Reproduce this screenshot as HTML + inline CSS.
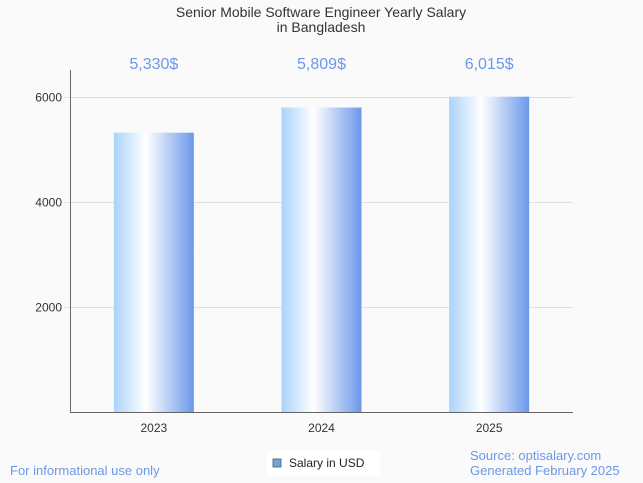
<!DOCTYPE html>
<html><head><meta charset="utf-8"><style>
html,body{margin:0;padding:0;overflow:hidden;background:#fafafa;font-family:"Liberation Sans",sans-serif;}
svg{display:block;}
</style></head><body>
<svg id="c" width="643" height="483" xmlns="http://www.w3.org/2000/svg">
<defs><linearGradient id="g" x1="0" x2="1" y1="0" y2="0">
<stop offset="0" stop-color="#a9d3fb"/><stop offset="0.4" stop-color="#ffffff"/><stop offset="1" stop-color="#6b98ea"/>
</linearGradient></defs>
<rect width="643" height="483" fill="#fafafa"/>
<text x="321" y="17" text-anchor="middle" font-size="14" fill="#333">Senior Mobile Software Engineer Yearly Salary</text>
<text x="321" y="32" text-anchor="middle" font-size="14" fill="#333">in Bangladesh</text>
<g id="grid"></g>
<g id="bars"></g>
<line x1="70.5" y1="70" x2="70.5" y2="412.5" stroke="#666"/>
<line x1="70" y1="412.5" x2="573" y2="412.5" stroke="#666"/>
<text x="10" y="475" font-size="13" fill="#6b98ea">For informational use only</text>
<rect x="267" y="451" width="113" height="25" fill="#fff"/>
<rect x="273" y="459" width="8" height="8" fill="#6aa6e8" stroke="#555" stroke-width="0.8"/>
<text x="289" y="467" font-size="12" fill="#222">Salary in USD</text>
<text x="470" y="460" font-size="13" fill="#6b98ea">Source: optisalary.com</text>
<text x="470" y="475" font-size="13" fill="#6b98ea">Generated February 2025</text>
</svg>
<script>
const categories=["2023","2024","2025"];
const salaries=[5330,5809,6015];
const valueLabels=["5,330$","5,809$","6,015$"];
const yTicks=[2000,4000,6000];
const ns="http://www.w3.org/2000/svg";
const x0=70,x1=573,yBase=412.5,pxPer=105/2000;
const y=v=>yBase-v*pxPer;
const band=(x1-x0)/categories.length;
const xc=i=>x0+band*(i+0.5);
const grid=document.getElementById('grid'),bars=document.getElementById('bars');
function mk(t,a,p){const e=document.createElementNS(ns,t);for(const k in a)e.setAttribute(k,a[k]);p.appendChild(e);return e;}
yTicks.forEach(v=>{
 const l=mk('line',{x1:64,x2:x1,y1:Math.round(y(v))-0.5,y2:Math.round(y(v))-0.5,stroke:'#e0e0e0'},grid);
 
 
 const t=mk('text',{x:62,y:y(v)+4,'text-anchor':'end','font-size':12,fill:'#333'},grid);t.textContent=v;
 
 
});
categories.forEach((c,i)=>{
 const r=mk('rect',{x:xc(i)-40,y:y(salaries[i]),width:80,height:yBase-y(salaries[i]),fill:'url(#g)'},bars);
 
 
 const t=mk('text',{x:xc(i),y:69,'text-anchor':'middle','font-size':16,fill:'#6b98ea'},bars);t.textContent=valueLabels[i];
 
 
 const xt=mk('text',{x:xc(i),y:432,'text-anchor':'middle','font-size':12,fill:'#333'},bars);xt.textContent=c;
 
 
});
</script>
</body></html>
